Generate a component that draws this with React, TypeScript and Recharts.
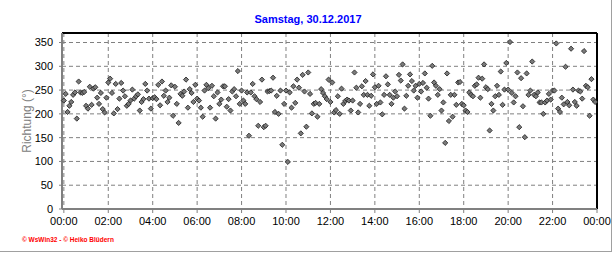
import React from "react";
import {
  ScatterChart,
  Scatter,
  XAxis,
  YAxis,
  CartesianGrid,
  ReferenceLine,
} from "recharts";

const title = "Samstag, 30.12.2017";
const yLabel = "Richtung (°)";
const footer = "© WsWin32 - © Heiko Blüdern";

// wind direction, one reading every 5 minutes, 48 per 4-hour block
const dir00to04 = [
  228, 242, 204, 217, 225, 240, 245, 190, 268, 245, 244, 246, 217, 211, 257, 219,
  253, 256, 234, 221, 244, 210, 203, 234, 266, 274, 244, 201, 263, 210, 232, 265,
  249, 237, 217, 221, 228, 251, 232, 237, 241, 207, 225, 231, 263, 249, 232, 211,
];
const dir04to08 = [
  233, 235, 231, 261, 218, 268, 238, 249, 225, 234, 260, 196, 257, 221, 181, 242,
  238, 247, 272, 213, 252, 244, 225, 261, 232, 228, 213, 194, 249, 261, 254, 213,
  259, 237, 190, 245, 221, 230, 258, 258, 215, 231, 207, 247, 252, 237, 290, 221,
];
const dir08to12 = [
  249, 228, 221, 245, 154, 245, 263, 237, 231, 175, 225, 272, 172, 175, 247, 248,
  249, 276, 204, 238, 200, 249, 135, 221, 249, 99, 245, 213, 258, 223, 272, 255,
  159, 282, 247, 173, 287, 242, 201, 221, 223, 194, 221, 252, 244, 237, 231, 272,
];
const dir12to16 = [
  225, 266, 203, 208, 237, 200, 253, 221, 227, 230, 228, 207, 228, 287, 255, 203,
  221, 258, 240, 269, 240, 217, 238, 283, 256, 221, 259, 224, 199, 240, 279, 262,
  240, 221, 234, 247, 237, 282, 270, 304, 211, 238, 259, 283, 269, 249, 259, 234,
];
const dir16to20 = [
  263, 247, 265, 285, 255, 232, 196, 301, 266, 259, 240, 252, 207, 224, 139, 285,
  185, 240, 194, 240, 219, 266, 267, 221, 218, 207, 204, 245, 240, 237, 259, 262,
  276, 234, 274, 304, 256, 252, 165, 221, 207, 237, 259, 240, 289, 219, 251, 307,
];
const dir20to24 = [
  251, 351, 244, 224, 237, 287, 172, 275, 216, 151, 285, 240, 249, 310, 240, 237,
  245, 224, 224, 200, 224, 228, 242, 230, 249, 249, 348, 211, 204, 234, 220, 299,
  225, 218, 337, 251, 225, 217, 249, 247, 232, 332, 259, 256, 196, 273, 230, 225,
];

const stepMinutes = 5;
const timeTicks = [0, 120, 240, 360, 480, 600, 720, 840, 960, 1080, 1200, 1320, 1440];
const timeLabels = ["00:00", "02:00", "04:00", "06:00", "08:00", "10:00", "12:00",
  "14:00", "16:00", "18:00", "20:00", "22:00", "00:00"];
const dirTicks = [0, 50, 100, 150, 200, 250, 300, 350];

const halfHourTicks = Array.from({ length: 49 }, (_, i) => i * 30);
const dirMinorTicks = Array.from({ length: 38 }, (_, i) => i * 10);

const data = [dir00to04, dir04to08, dir08to12, dir12to16, dir16to20, dir20to24]
  .flat()
  .map((v, i) => ({ t: i * stepMinutes, v }));

const font = "Arial, 'Liberation Sans', sans-serif";
const axisGrey = "#808080";

const Diamond = (p: any) => {
  const { cx, cy } = p;
  if (cx == null || cy == null) return <g />;
  const r = 2.6;
  return (
    <polygon
      points={`${cx},${cy - r} ${cx + r},${cy} ${cx},${cy + r} ${cx - r},${cy}`}
      fill="#7a7a7a"
      stroke="#1c1c1c"
      strokeWidth={0.8}
    />
  );
};

const Empty = () => <g />;

export default function App() {
  return (
    <div
      style={{
        position: "absolute",
        left: 0,
        top: 0,
        width: 616,
        height: 253,
        background: "#fff",
        fontFamily: font,
      }}
    >
      <div
        style={{
          position: "absolute",
          top: 12,
          left: 0,
          width: 616,
          textAlign: "center",
          color: "#0000ff",
          fontWeight: "bold",
          fontSize: 11,
          lineHeight: "14px",
        }}
      >
        {title}
      </div>
      <ScatterChart
        width={616}
        height={253}
        margin={{ top: 33, right: 19, bottom: 14, left: 0 }}
        style={{ position: "absolute", left: 0, top: 0 }}
      >
        <CartesianGrid
          xAxisId="main"
          yAxisId="main"
          stroke={axisGrey}
          strokeDasharray="4 3"
          horizontalValues={dirTicks}
          verticalValues={timeTicks}
        />
        <XAxis
          xAxisId="minor"
          type="number"
          dataKey="t"
          domain={[-5, 1440]}
          ticks={halfHourTicks}
          height={0}
          axisLine={false}
          tickSize={3}
          tickLine={{ stroke: axisGrey }}
          tick={Empty}
        />
        <XAxis
          xAxisId="main"
          type="number"
          dataKey="t"
          domain={[-5, 1440]}
          ticks={timeTicks}
          height={30}
          interval={0}
          tickFormatter={(t: number) => timeLabels[timeTicks.indexOf(t)]}
          tick={{ fill: "#000", fontSize: 11, fontFamily: font }}
          tickSize={4}
          tickMargin={4}
          axisLine={{ stroke: axisGrey, strokeWidth: 2 }}
          tickLine={{ stroke: axisGrey }}
        />
        <YAxis
          yAxisId="minor"
          type="number"
          dataKey="v"
          domain={[0, 370]}
          ticks={dirMinorTicks}
          width={0}
          axisLine={false}
          tickSize={2}
          tickLine={{ stroke: axisGrey }}
          tick={Empty}
        />
        <YAxis
          yAxisId="main"
          type="number"
          dataKey="v"
          domain={[0, 370]}
          ticks={dirTicks}
          width={62}
          interval={0}
          tick={{ fill: "#000", fontSize: 11, fontFamily: font }}
          tickSize={3}
          tickMargin={6}
          axisLine={{ stroke: axisGrey, strokeWidth: 2 }}
          tickLine={{ stroke: axisGrey }}
          label={{
            content: () => (
              <text
                x={27}
                y={121}
                transform="rotate(-90 27 121)"
                textAnchor="middle"
                dominantBaseline="central"
                fill={axisGrey}
                fontSize={12}
                fontFamily={font}
              >
                {yLabel}
              </text>
            ),
          }}
        />
        <ReferenceLine xAxisId="main" yAxisId="main" y={370} stroke="#000" strokeWidth={2} />
        <ReferenceLine xAxisId="main" yAxisId="main" x={1440} stroke="#000" strokeWidth={2} />
        <Scatter
          xAxisId="main"
          yAxisId="main"
          data={data}
          shape={Diamond}
          isAnimationActive={false}
        />
      </ScatterChart>
      <div
        style={{
          position: "absolute",
          left: 22,
          top: 235,
          color: "#ff0000",
          fontSize: 6.5,
          fontWeight: "bold",
          lineHeight: "9px",
          whiteSpace: "nowrap",
        }}
      >
        {footer}
      </div>
      <div style={{ position: "absolute", left: 611, top: 0, width: 1, height: 252, background: "#a0a0a0" }} />
      <div style={{ position: "absolute", left: 0, top: 251, width: 612, height: 1, background: "#a0a0a0" }} />
    </div>
  );
}
